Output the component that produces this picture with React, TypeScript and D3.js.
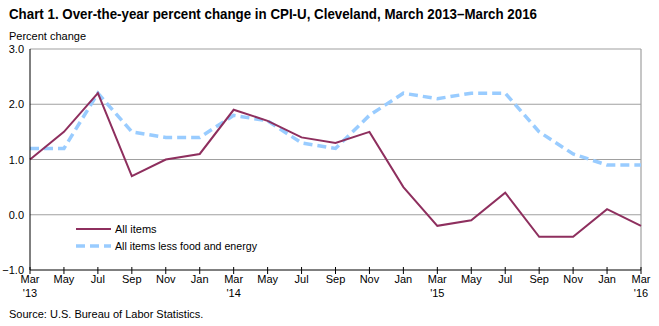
import React from "react";
import * as d3 from "d3";

const months = ["Mar","May","Jul","Sep","Nov","Jan","Mar","May","Jul","Sep","Nov","Jan","Mar","May","Jul","Sep","Nov","Jan","Mar"];
const years = ["'13","","","","","","'14","","","","","","'15","","","","","","'16"];
const allItems = [1.0,1.5,2.2,0.7,1.0,1.1,1.9,1.7,1.4,1.3,1.5,0.5,-0.2,-0.1,0.4,-0.4,-0.4,0.1,-0.2];
const core = [1.2,1.2,2.2,1.5,1.4,1.4,1.8,1.7,1.3,1.2,1.8,2.2,2.1,2.2,2.2,1.5,1.1,0.9,0.9];
const yTicks = [-1, 0, 1, 2, 3];

const W = 659, H = 326;
const L = 30, R = 641, T = 49, B = 270;
const font = "Arial, 'Liberation Sans', sans-serif";

export default function App() {
  const x = d3.scaleLinear().domain([0, months.length - 1]).range([L, R]);
  const y = d3.scaleLinear().domain([-1, 3]).range([B, T]);
  const line = d3.line<number>().x((_, i) => x(i)).y((d) => y(d));
  return (
    <svg width={W} height={H} style={{ position: "absolute", left: 0, top: 0, background: "#fff" }} fontFamily={font}>
      <text x={9} y={19} fontSize={14.5} fontWeight="bold" fill="#000" textLength={528} lengthAdjust="spacingAndGlyphs">
        Chart 1. Over-the-year percent change in CPI-U, Cleveland, March 2013–March 2016
      </text>
      <text x={9} y={40} fontSize={11} fill="#000">Percent change</text>
      {yTicks.filter((t) => t !== -1).map((t) => (
        <line key={t} x1={L} x2={R} y1={y(t)} y2={y(t)} stroke="#a0a0a0" strokeWidth={1.2} />
      ))}
      <line x1={R} x2={R} y1={T} y2={B} stroke="#a0a0a0" strokeWidth={1.2} />
      {yTicks.map((t) => (
        <text key={t} x={24} y={y(t) + 4} fontSize={11} textAnchor="end" fill="#000">
          {d3.format(".1f")(t)}
        </text>
      ))}
      <path d={line(core) || ""} fill="none" stroke="#99ccff" strokeWidth={3.5} strokeDasharray="9,5" />
      <path d={line(allItems) || ""} fill="none" stroke="#8e2f5e" strokeWidth={2} />
      <line x1={L} x2={L} y1={T} y2={B} stroke="#000" strokeWidth={1} />
      <line x1={L} x2={R} y1={B} y2={B} stroke="#000" strokeWidth={1} />
      {months.map((m, i) => (
        <g key={i}>
          <line x1={x(i)} x2={x(i)} y1={B - 3} y2={B + 4} stroke="#000" strokeWidth={1} />
          <text x={x(i)} y={B + 13} fontSize={11} textAnchor="middle" fill="#000">{m}</text>
          {years[i] && (
            <text x={x(i)} y={B + 27} fontSize={11} textAnchor="middle" fill="#000">{years[i]}</text>
          )}
        </g>
      ))}
      <line x1={76} x2={111} y1={229} y2={229} stroke="#8e2f5e" strokeWidth={2} />
      <text x={115} y={233} fontSize={11} fill="#000">All items</text>
      <line x1={76} x2={111} y1={246} y2={246} stroke="#99ccff" strokeWidth={3.5} strokeDasharray="9,5" />
      <text x={115} y={250} fontSize={11} fill="#000" textLength={142} lengthAdjust="spacingAndGlyphs">All items less food and energy</text>
      <text x={9} y={318} fontSize={11} fill="#000">Source: U.S. Bureau of Labor Statistics.</text>
    </svg>
  );
}
